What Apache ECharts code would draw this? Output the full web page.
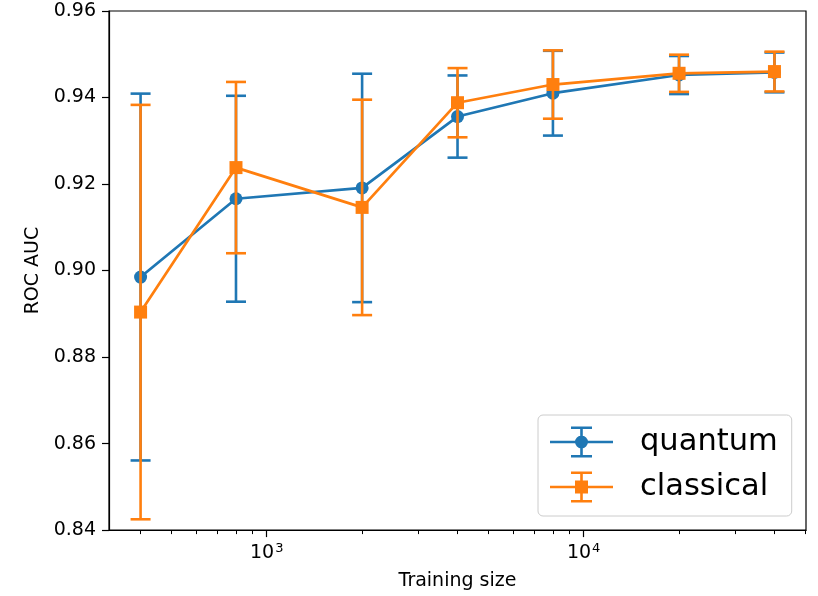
<!DOCTYPE html>
<html>
<head>
<meta charset="utf-8">
<script src="https://cdn.jsdelivr.net/npm/echarts@6/dist/echarts.min.js"></script>
<style>
  html, body { margin: 0; padding: 0; background: #fff; }
  #chart { width: 818px; height: 596px; }
</style>
</head>
<body>
<div id="chart"></div>
<script>
// training sizes (x) and ROC AUC mean / error half-width per model
const sizes = [400, 800, 2000, 4000, 8000, 20000, 40000];
const quantumMean = [0.8985, 0.9166, 0.9191, 0.9356, 0.9410, 0.9452, 0.9458];
const quantumErr = [0.0424, 0.0238, 0.0264, 0.0095, 0.0098, 0.0044, 0.0046];
const classicalMean = [0.8904, 0.9238, 0.9146, 0.9388, 0.9430, 0.9456, 0.9460];
const classicalErr = [0.0479, 0.0198, 0.0249, 0.0080, 0.0079, 0.0043, 0.0046];

const majorTicks = [1000, 10000];
const minorTicks = [400, 500, 600, 700, 800, 900, 2000, 3000, 4000, 5000, 6000, 7000, 8000, 9000,
    20000, 30000, 40000, 50000];

const blue = '#1f77b4';
const orange = '#ff7f0e';
const font = 'DejaVu Sans';

// legend icons: line + error bar + marker (filled path, 63x31 box)
const iconBase = 'M0 14.2H63V16.8H0Z M30.2 0H32.8V31H30.2Z M21 0H42V2.6H21Z M21 28.4H42V31H21Z ';
const circleIcon = 'path://' + iconBase + 'M25 15.5A6.5 6.5 0 1 1 38 15.5A6.5 6.5 0 1 1 25 15.5Z';
const squareIcon = 'path://' + iconBase + 'M25 9H38V22H25Z';

function points(means) {
    return sizes.map((s, i) => [s, means[i]]);
}
function bars(means, errs) {
    return sizes.map((s, i) => [s, means[i] - errs[i], means[i] + errs[i]]);
}
function errRender(color) {
    return function (params, api) {
        const x = api.value(0);
        const top = api.coord([x, api.value(2)]);
        const bot = api.coord([x, api.value(1)]);
        const cap = 10;
        const st = { stroke: color, lineWidth: 2.6 };
        return {
            type: 'group',
            children: [
                { type: 'line', shape: { x1: top[0], y1: top[1], x2: bot[0], y2: bot[1] }, style: st },
                { type: 'line', shape: { x1: top[0] - cap, y1: top[1], x2: top[0] + cap, y2: top[1] }, style: st },
                { type: 'line', shape: { x1: bot[0] - cap, y1: bot[1], x2: bot[0] + cap, y2: bot[1] }, style: st },
            ]
        };
    };
}

const chart = echarts.init(document.getElementById('chart'));
chart.setOption({
    animation: false,
    backgroundColor: '#fff',
    textStyle: { fontFamily: font },
    grid: {
        left: 109, top: 11, right: 12, bottom: 64,
        show: true, borderColor: '#000', borderWidth: 1.2, backgroundColor: 'transparent'
    },
    legend: {
        orient: 'vertical',
        left: 538, top: 415,
        padding: [10, 14, 12, 12],
        itemWidth: 63, itemHeight: 31, itemGap: 11,
        borderColor: '#cccccc', borderWidth: 1, borderRadius: 5,
        backgroundColor: '#fff',
        selectedMode: false,
        textStyle: { fontSize: 30.5, color: '#000', fontFamily: font, lineHeight: 34, padding: [0, 0, 0, 22] },
        data: [
            { name: 'quantum', icon: circleIcon, itemStyle: { color: blue } },
            { name: 'classical', icon: squareIcon, itemStyle: { color: orange } }
        ]
    },
    xAxis: [
        {
            type: 'log', logBase: 10, min: 318, max: 50300,
            name: 'Training size', nameLocation: 'middle', nameGap: 40,
            nameTextStyle: { fontSize: 19, color: '#000', fontFamily: font },
            axisLine: { show: true, lineStyle: { color: '#000', width: 1.2 } },
            axisTick: { show: true, length: 7, customValues: majorTicks, lineStyle: { color: '#000', width: 1.2 } },
            axisLabel: {
                customValues: majorTicks, margin: 12, color: '#000',
                formatter: v => '{b|10}{s|' + Math.round(Math.log10(v)) + '}',
                rich: {
                    b: { fontSize: 19, fontFamily: font, color: '#000', lineHeight: 22 },
                    s: { fontSize: 13, fontFamily: font, color: '#000', lineHeight: 22, verticalAlign: 'top', padding: [0, 0, 12, 1] }
                }
            },
            splitLine: { show: false }
        },
        {
            type: 'log', logBase: 10, min: 318, max: 50300, position: 'bottom',
            axisLine: { show: false },
            axisTick: { show: true, length: 4, customValues: minorTicks, lineStyle: { color: '#000', width: 1 } },
            axisLabel: { show: false },
            splitLine: { show: false }
        }
    ],
    yAxis: {
        type: 'value', min: 0.84, max: 0.96, interval: 0.02,
        name: 'ROC AUC', nameLocation: 'middle', nameGap: 64, nameRotate: 90,
        nameTextStyle: { fontSize: 19, color: '#000', fontFamily: font },
        axisLine: { show: true, lineStyle: { color: '#000', width: 1.2 } },
        axisTick: { show: true, length: 7, lineStyle: { color: '#000', width: 1.2 } },
        axisLabel: { fontSize: 19, color: '#000', margin: 13, formatter: v => v.toFixed(2) },
        splitLine: { show: false }
    },
    series: [
        {
            name: 'quantum err', type: 'custom', xAxisIndex: 0,
            renderItem: errRender(blue), encode: { x: 0, y: [1, 2] },
            data: bars(quantumMean, quantumErr), z: 2
        },
        {
            name: 'quantum', type: 'line', xAxisIndex: 0,
            data: points(quantumMean), symbol: 'circle', symbolSize: 13,
            itemStyle: { color: blue }, lineStyle: { color: blue, width: 2.7 }, z: 3
        },
        {
            name: 'classical err', type: 'custom', xAxisIndex: 0,
            renderItem: errRender(orange), encode: { x: 0, y: [1, 2] },
            data: bars(classicalMean, classicalErr), z: 4
        },
        {
            name: 'classical', type: 'line', xAxisIndex: 0,
            data: points(classicalMean), symbol: 'rect', symbolSize: 13,
            itemStyle: { color: orange }, lineStyle: { color: orange, width: 2.7 }, z: 5
        }
    ]
});
</script>
</body>
</html>
